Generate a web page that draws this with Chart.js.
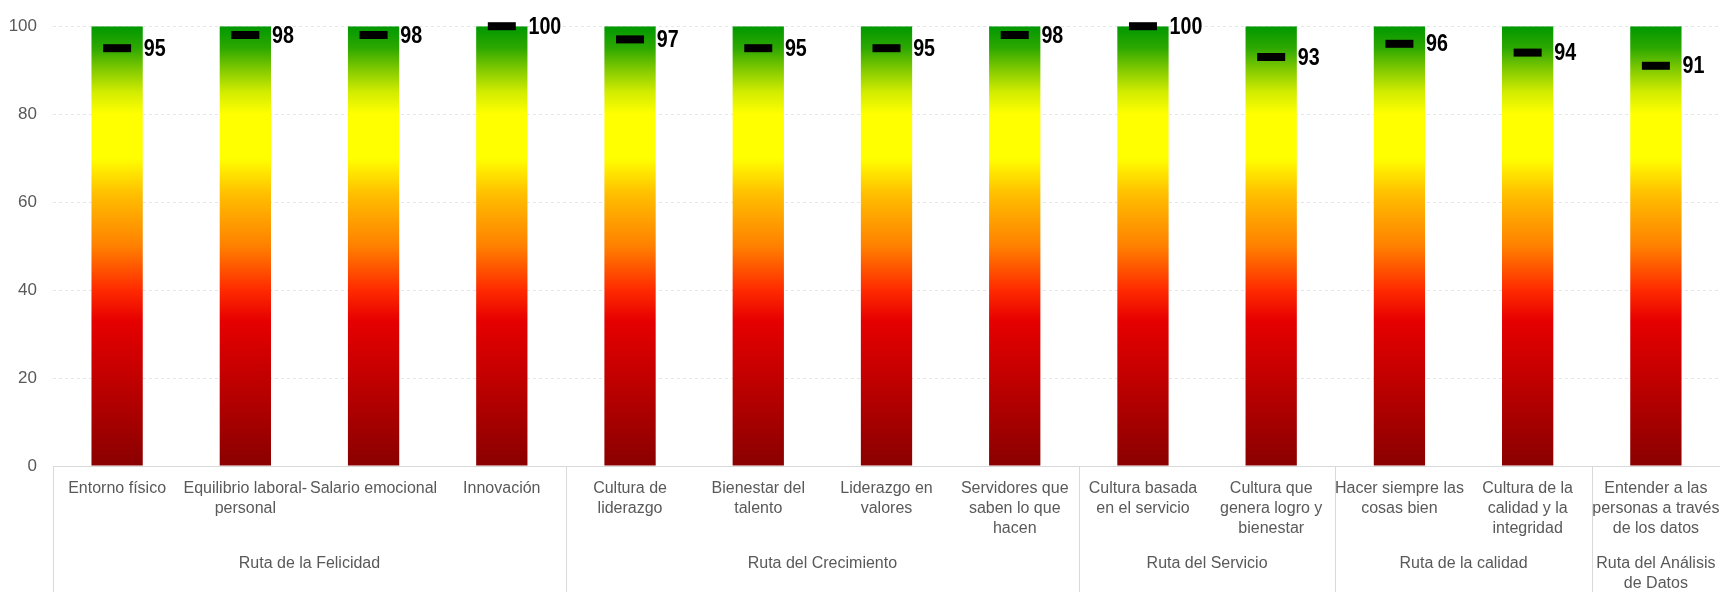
<!DOCTYPE html>
<html>
<head>
<meta charset="utf-8">
<script src="https://cdn.jsdelivr.net/npm/chart.js@4.4.1/dist/chart.umd.min.js"></script>
<style>
    html, body { margin: 0; padding: 0; background: #fff; }
    #wrap { width: 1720px; height: 592px; position: relative; }
</style>
</head>
<body>
<div id="wrap"><canvas id="rutasChart"></canvas></div>
<script>
    // Resultados por ruta
    const categories = [
        'Entorno físico',
        ['Equilibrio laboral-', 'personal'],
        'Salario emocional',
        'Innovación',
        ['Cultura de', 'liderazgo'],
        ['Bienestar del', 'talento'],
        ['Liderazgo en', 'valores'],
        ['Servidores que', 'saben lo que', 'hacen'],
        ['Cultura basada', 'en el servicio'],
        ['Cultura que', 'genera logro y', 'bienestar'],
        ['Hacer siempre las', 'cosas bien'],
        ['Cultura de la', 'calidad y la', 'integridad'],
        ['Entender a las', 'personas a través', 'de los datos']
    ];
    const groupNames = [
        ['Ruta de la Felicidad'],
        ['Ruta del Crecimiento'],
        ['Ruta del Servicio'],
        ['Ruta de la calidad'],
        ['Ruta del Análisis', 'de Datos']
    ];
    const groupSizes = [4, 4, 2, 2, 1];
    const scaleFull = [100, 100, 100, 100, 100, 100, 100, 100, 100, 100, 100, 100, 100];
    const scores = [95, 98, 98, 100, 97, 95, 95, 98, 100, 93, 96, 94, 91];

    const fontFamily = "'Liberation Sans', Arial, sans-serif";
    const textGrey = '#595959';
    const lineGrey = '#d9d9d9';

    // semaforo: verde arriba, rojo oscuro abajo
    const gradientStops = [
        [100, '#009800'],
        [95, '#2ea800'],
        [90, '#84cb00'],
        [85, '#d2ec00'],
        [80, '#ffff00'],
        [70, '#ffff00'],
        [62, '#ffc000'],
        [50, '#ff8000'],
        [40, '#ff2a00'],
        [33, '#e60000'],
        [0, '#8a0000']
    ];

    const barGradient = (context) => {
        const chart = context.chart;
        const { ctx, chartArea, scales } = chart;
        if (!chartArea) return null;
        const top = scales.y.getPixelForValue(100);
        const bottom = scales.y.getPixelForValue(0);
        const g = ctx.createLinearGradient(0, top, 0, bottom);
        gradientStops.forEach(([v, c]) => g.addColorStop((100 - v) / 100, c));
        return g;
    };

    // etiquetas de valor junto a cada marca (letra estrecha como en el original)
    const valueLabels = {
        id: 'valueLabels',
        afterDatasetsDraw(chart) {
            const { ctx } = chart;
            const bars = chart.getDatasetMeta(0).data;
            const marks = chart.getDatasetMeta(1).data;
            const squeeze = 0.82;
            ctx.save();
            ctx.font = 'bold 24px ' + fontFamily;
            ctx.fillStyle = '#000';
            ctx.textAlign = 'left';
            ctx.textBaseline = 'middle';
            marks.forEach((pt, i) => {
                const bar = bars[i];
                ctx.save();
                ctx.translate(bar.x + bar.width / 2 + 1, pt.y + 1);
                ctx.scale(squeeze, 1);
                ctx.fillText(String(scores[i]), 0, 0);
                ctx.restore();
            });
            ctx.restore();
        }
    };

    // segundo nivel del eje x: rutas y separadores
    const groupAxis = {
        id: 'groupAxis',
        afterDraw(chart) {
            const { ctx, chartArea, scales: { x } } = chart;
            const half = (x.getPixelForValue(1) - x.getPixelForValue(0)) / 2;
            const yTop = chartArea.bottom;
            const yBottom = chart.height;
            ctx.save();
            ctx.strokeStyle = lineGrey;
            ctx.lineWidth = 1;
            ctx.font = '16px ' + fontFamily;
            ctx.fillStyle = textGrey;
            ctx.textAlign = 'center';
            ctx.textBaseline = 'middle';
            let idx = 0;
            groupSizes.forEach((size, g) => {
                const left = x.getPixelForValue(idx) - half;
                const right = x.getPixelForValue(idx + size - 1) + half;
                const lx = Math.round(left) + 0.5;
                ctx.beginPath();
                ctx.moveTo(lx, yTop);
                ctx.lineTo(lx, yBottom);
                ctx.stroke();
                groupNames[g].forEach((line, k) => {
                    ctx.fillText(line, (left + right) / 2, yTop + 98 + k * 20);
                });
                idx += size;
            });
            ctx.restore();
        }
    };

    const ctxRutas = document.getElementById('rutasChart').getContext('2d');
    new Chart(ctxRutas, {
        data: {
            labels: categories,
            datasets: [{
                type: 'bar',
                data: scaleFull,
                backgroundColor: barGradient,
                borderWidth: 0,
                barPercentage: 0.4,
                categoryPercentage: 1,
                order: 2
            }, {
                type: 'line',
                data: scores,
                showLine: false,
                pointStyle: 'line',
                pointRadius: 14,
                pointHoverRadius: 14,
                pointBorderWidth: 8,
                pointBorderColor: '#000',
                pointBackgroundColor: '#000',
                clip: false,
                order: 1
            }]
        },
        options: {
            responsive: true,
            maintainAspectRatio: false,
            animation: false,
            layout: { autoPadding: false, padding: { top: 21, right: 0, left: 0, bottom: 0 } },
            plugins: { legend: { display: false }, tooltip: { enabled: false } },
            scales: {
                x: {
                    offset: true,
                    grid: { display: false, drawTicks: false },
                    border: { display: true, color: lineGrey, width: 1 },
                    ticks: {
                        autoSkip: false,
                        maxRotation: 0,
                        padding: 13,
                        color: textGrey,
                        font: { family: fontFamily, size: 16, lineHeight: '20px' }
                    },
                    afterFit: (scale) => {
                        scale.height = 126;
                        scale.paddingLeft = 0;
                        scale.paddingRight = 0;
                    }
                },
                y: {
                    min: 0,
                    max: 100,
                    ticks: {
                        stepSize: 20,
                        padding: 16,
                        color: textGrey,
                        font: { family: fontFamily, size: 17 }
                    },
                    grid: { color: '#e6e6e6', drawTicks: false },
                    border: { display: false, dash: [3, 3] },
                    afterFit: (scale) => { scale.width = 53; }
                }
            }
        },
        plugins: [valueLabels, groupAxis]
    });
</script>
</body>
</html>
